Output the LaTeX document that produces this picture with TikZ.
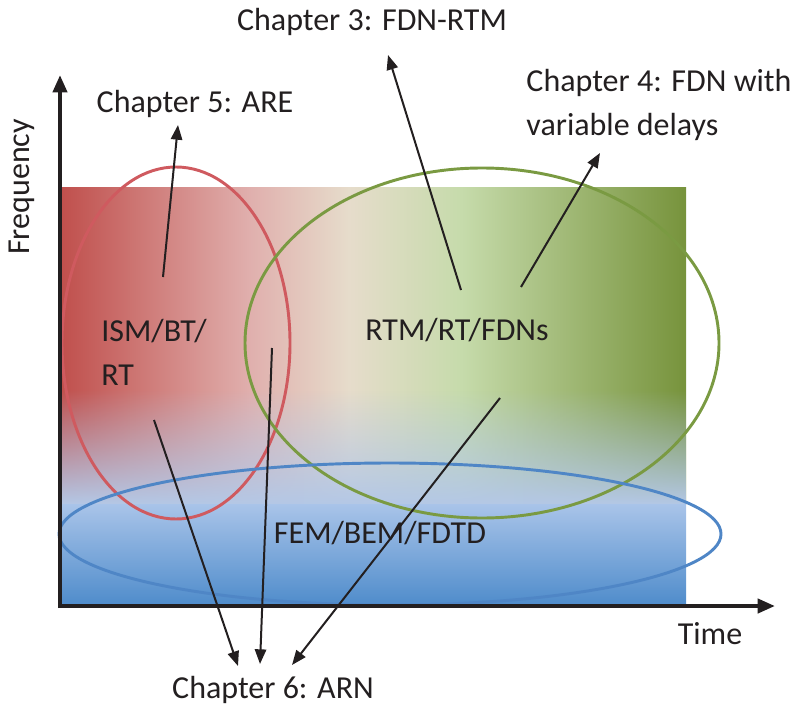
\documentclass[tikz,border=0pt]{standalone}
\usepackage{fontspec}
\setmainfont{Carlito}
\usetikzlibrary{arrows.meta,fadings,calc,positioning}

\definecolor{redc}{HTML}{C0504D}
\definecolor{pinkc}{HTML}{E0AFAD}
\definecolor{beigec}{HTML}{E6DCCB}
\definecolor{lgreenc}{HTML}{C6DBAB}
\definecolor{greenc}{HTML}{77933C}
\definecolor{fadec}{HTML}{B4C8E6}
\definecolor{bluetop}{HTML}{A9C4E9}
\definecolor{bluebot}{HTML}{4F8CCB}
\definecolor{redline}{HTML}{CF5A5F}
\definecolor{greenline}{HTML}{7A9A42}
\definecolor{blueline}{HTML}{4F86C6}
\definecolor{inkc}{HTML}{231F20}

\pgfdeclarehorizontalshading{methods}{100bp}{color(0bp)=(redc); color(25bp)=(redc);
  color(40bp)=(pinkc); color(48bp)=(beigec); color(57bp)=(lgreenc);
  color(75bp)=(greenc); color(100bp)=(greenc)}

\tikzset{
  axis/.style={line width=3pt, draw=inkc, -{Triangle[length=13pt,width=10.5pt]}},
  region/.style={line width=2.2pt},
  pointer/.style={line width=1.5pt, draw=inkc, -{Triangle[length=11pt,width=8.5pt]}},
  label/.style={text=inkc, font=\fontsize{24}{33}\selectfont, inner sep=0pt}
}

\begin{document}
\begin{tikzpicture}[x=0.75pt, y=-0.75pt]
    \useasboundingbox (0,0) rectangle (798,709);

    % background of the time-frequency plane
    \shade[shading=methods] (62,188) rectangle (686,504);
    \fill[fadec, path fading=north] (62,390) rectangle (686,504);
    \shade[top color=bluetop, bottom color=bluebot] (62,504) rectangle (686,605);

    % method regions
    \draw[region, redline] (176,343) ellipse [x radius=114, y radius=176];
    \draw[region, greenline] (482,343) ellipse [x radius=237, y radius=175];
    \draw[region, blueline] (390,534) ellipse [x radius=331, y radius=71];

    % axes
    \draw[axis] (60,608) -- (60,75);
    \draw[axis] (58,606) -- (775,606);
    \node[label, rotate=90] (freq) at (22,187) {Frequency};
    \node[label] (time) at (710,634) {Time};

    % labels
    \node[label, align=left] (geo) at (154,352) {ISM/BT/\\RT};
    \node[label] (wave) at (457,330) {RTM/RT/FDNs};
    \node[label] (fem) at (380,533) {FEM/BEM/FDTD};
    \node[label] (ch3) at (372,22) {Chapter 3: FDN-RTM};
    \node[label, align=left] (ch4) at (659,105) {Chapter 4: FDN with\\variable delays};
    \node[label] (ch5) at (195,104) {Chapter 5: ARE};
    \node[label] (ch6) at (273,690) {Chapter 6: ARN};

    % pointers to the chapters
    \coordinate (s5) at (163,277);
    \coordinate (t5) at (178,125);
    \coordinate (s3) at (461,290);
    \coordinate (t3) at (388,55);
    \coordinate (s4) at (521,287);
    \coordinate (t4) at (600,153);
    \coordinate (s6a) at (154,420);
    \coordinate (t6a) at (238,666);
    \coordinate (s6b) at (272,348);
    \coordinate (t6b) at (260,664);
    \coordinate (s6c) at (500,398);
    \coordinate (t6c) at (292,665);

    \draw[pointer] (s5) -- (t5);
    \draw[pointer] (s3) -- (t3);
    \draw[pointer] (s4) -- (t4);
    \draw[pointer] (s6a) -- (t6a);
    \draw[pointer] (s6b) -- (t6b);
    \draw[pointer] (s6c) -- (t6c);
\end{tikzpicture}
\end{document}
